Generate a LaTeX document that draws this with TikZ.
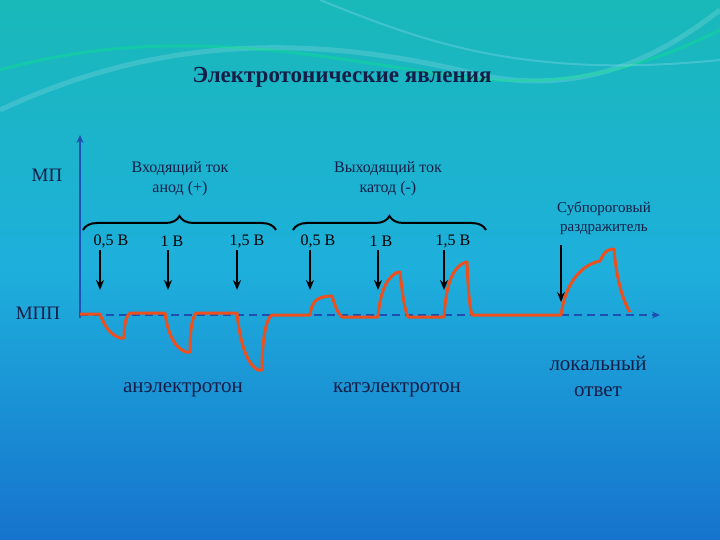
\documentclass[tikz,border=0pt]{standalone}
\usepackage{fontspec}
\setmainfont{Liberation Serif}
\usetikzlibrary{decorations.pathreplacing,arrows.meta}
\definecolor{navy}{RGB}{20,30,70}
\definecolor{wave}{RGB}{235,80,30}
\definecolor{axisblue}{RGB}{30,80,180}
\begin{document}
\begin{tikzpicture}[x=1pt,y=-1pt,
  lbl/.style={font=\fontsize{16}{18}\selectfont,text=navy,align=center,inner sep=0pt},
  volt/.style={font=\fontsize{16}{18}\selectfont,text=black,inner sep=0pt},
  big/.style={font=\fontsize{21}{25}\selectfont,text=navy,align=center,inner sep=0pt},
  stim/.style={-{Stealth[length=10pt,width=8pt]},line width=2pt,black},
  brc/.style={decorate,decoration={brace,amplitude=14pt},line width=2pt,black}]
\useasboundingbox (0,0) rectangle (720,540);
\shade[top color={rgb,255:red,25;green,185;blue,185},bottom color={rgb,255:red,22;green,115;blue,205},middle color={rgb,255:red,30;green,175;blue,220}] (0,0) rectangle (720,540);
% decorative waves
\draw[white,opacity=0.15,line width=5pt] (0,110) .. controls (150,40) and (300,30) .. (480,75) .. controls (600,100) and (680,40) .. (720,10);
\draw[green!60!cyan,opacity=0.25,line width=3pt] (0,70) .. controls (180,20) and (330,60) .. (470,78) .. controls (580,90) and (660,60) .. (720,30);
\draw[cyan!40,opacity=0.3,line width=2pt] (320,0) .. controls (420,40) and (520,80) .. (720,60);
\node[font=\bfseries\fontsize{23}{26}\selectfont,text=navy,inner sep=0pt] (title) at (342,77) {Электротонические явления};
% axes
\coordinate (o) at (80,318);
\coordinate (ytop) at (80,135);
\coordinate (xend) at (660,315);
\draw[axisblue,line width=1.5pt,-{Stealth[length=8pt,width=7pt]}] (o) -- (ytop);
\draw[axisblue,line width=1.5pt,dashed,dash pattern=on 8pt off 5pt,-{Stealth[length=8pt,width=7pt]}] (80,315) -- (xend);
\node[lbl,font=\fontsize{19}{21}\selectfont] (mp) at (47,175) {МП};
\node[lbl,font=\fontsize{19}{21}\selectfont] (mpp) at (38,313) {МПП};
% headers
\node[lbl] (in) at (180,179) {Входящий ток\\[2pt]анод (+)};
\node[lbl] (out) at (388,179) {Выходящий ток\\[2pt]катод (-)};
\draw[brc] (83,230) -- (276,230);
\draw[brc] (293,230) -- (486,230);
\node[lbl,font=\fontsize{15}{17}\selectfont] (sub) at (604,218) {Субпороговый\\[2pt]раздражитель};
% voltage labels
\node[volt] (v1) at (111,241) {0,5 В};
\node[volt] (v2) at (172,241) {1 В};
\node[volt] (v3) at (247,241) {1,5 В};
\node[volt] (v4) at (318,241) {0,5 В};
\node[volt] (v5) at (381,241) {1 В};
\node[volt] (v6) at (453,241) {1,5 В};
% stimulus arrows
\foreach \n/\x in {a1/100,a2/168,a3/237,a4/310,a5/378,a6/444}{
  \coordinate (\n s) at (\x,250); \coordinate (\n e) at (\x,290);
  \draw[stim] (\n s) -- (\n e);}
\coordinate (a7s) at (561,245); \coordinate (a7e) at (561,302);
\draw[stim] (a7s) -- (a7e);
% waveform
\draw[wave,line width=3pt,line join=round] (80,314) -- (100,314)
  .. controls (106,330) and (112,335) .. (120,338) -- (124,338) .. controls (124,325) and (126,316) .. (130,313) -- (165,313)
  .. controls (168,335) and (175,348) .. (186,352) -- (190,352) .. controls (190,330) and (192,318) .. (196,313) -- (237,313)
  .. controls (240,345) and (248,365) .. (258,370) -- (262,370) .. controls (262,340) and (266,318) .. (272,315) -- (310,315)
  .. controls (312,300) and (318,297) .. (330,296) -- (332,296) .. controls (335,305) and (337,313) .. (342,317) -- (378,317)
  .. controls (380,290) and (388,276) .. (398,272) -- (400,272) .. controls (402,290) and (404,308) .. (408,317) -- (444,317)
  .. controls (446,285) and (452,267) .. (466,262) -- (467,262) .. controls (468,285) and (469,305) .. (472,315) -- (561,315)
  .. controls (565,285) and (580,265) .. (600,261) .. controls (603,255) and (605,250) .. (612,249) -- (614,249)
  .. controls (616,275) and (622,300) .. (630,312);
% bottom labels
\node[big] (an) at (183,390) {анэлектротон};
\node[big] (kat) at (397,390) {катэлектротон};
\node[big] (loc) at (598,376) {локальный\\[1pt]ответ};
\end{tikzpicture}
\end{document}
